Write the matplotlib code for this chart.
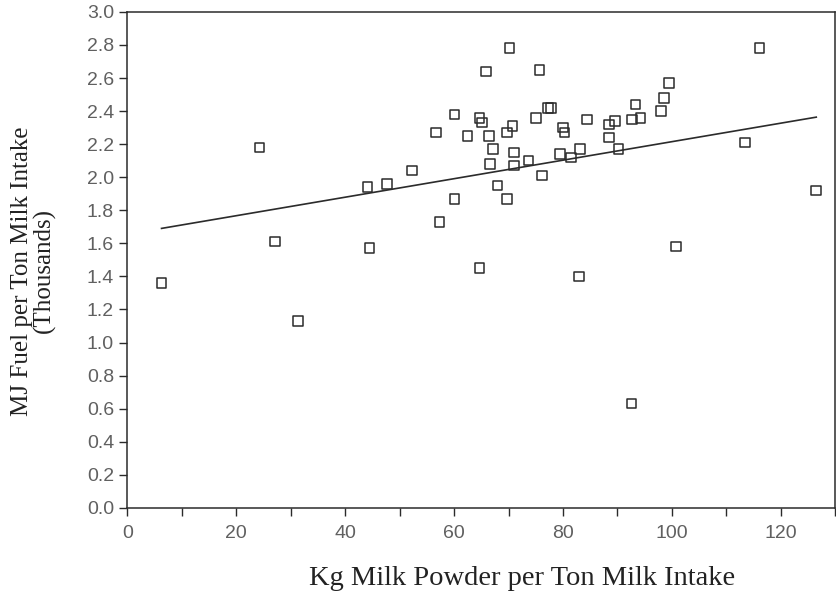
import numpy as np
import matplotlib
matplotlib.use("Agg")
import matplotlib.pyplot as plt
from matplotlib.ticker import MultipleLocator

# kg milk powder per ton milk intake
powder = [6.3, 24.3, 27.1, 31.3, 44.5, 44.1, 47.7, 52.3, 56.7, 57.3,
          60.1, 60.1, 62.5, 64.7, 65.1, 64.7, 65.9, 66.4, 66.6, 67.2,
          68.0, 69.7, 69.7, 70.2, 70.7, 71.0, 71.0, 73.7, 75.1, 75.7,
          76.2, 77.3, 77.8, 79.4, 80.0, 80.3, 81.5, 82.9, 83.1, 84.4,
          88.4, 89.6, 88.4, 90.2, 92.6, 92.7, 93.3, 94.2, 98.0, 98.6,
          99.5, 100.8, 113.4, 116.1, 126.5]

# MJ fuel per ton milk intake (thousands)
fuel = [1.36, 2.18, 1.61, 1.13, 1.57, 1.94, 1.96, 2.04, 2.27, 1.73,
        2.38, 1.87, 2.25, 2.36, 2.33, 1.45, 2.64, 2.25, 2.08, 2.17,
        1.95, 2.27, 1.87, 2.78, 2.31, 2.15, 2.07, 2.10, 2.36, 2.65,
        2.01, 2.42, 2.42, 2.14, 2.30, 2.27, 2.12, 1.40, 2.17, 2.35,
        2.32, 2.34, 2.24, 2.17, 0.63, 2.35, 2.44, 2.36, 2.40, 2.48,
        2.57, 1.58, 2.21, 2.78, 1.92]

# fitted line
fit_intercept = 1.655
fit_slope = 0.0056

ink = "#2b2b2b"

fig = plt.figure(figsize=(8.37, 5.96), dpi=100)
ax = fig.add_axes([0.152, 0.148, 0.846, 0.832])

ax.scatter(powder, fuel, marker="s", s=48, facecolors="none",
           edgecolors=ink, linewidths=1.1, zorder=3)

xs = np.array([min(powder), max(powder)])
ax.plot(xs, fit_intercept + fit_slope * xs, color=ink, lw=1.2)

ax.set_xlim(0, 130)
ax.set_ylim(0, 3.0)
ax.xaxis.set_major_locator(MultipleLocator(20))
ax.xaxis.set_minor_locator(MultipleLocator(10))
ax.yaxis.set_major_locator(MultipleLocator(0.2))
ax.yaxis.set_major_formatter(matplotlib.ticker.FormatStrFormatter("%.1f"))

ax.tick_params(which="both", direction="out", length=5.5, width=1.0,
               color=ink, labelcolor="#606060", labelsize=14)
ax.tick_params(axis="x", pad=7)
ax.tick_params(axis="y", pad=4)
for lab in ax.get_xticklabels() + ax.get_yticklabels():
    lab.set_fontfamily("Liberation Sans")

for sp in ax.spines.values():
    sp.set_color(ink)
    sp.set_linewidth(1.1)

ax.set_xlabel("Kg Milk Powder per Ton Milk Intake", family="Liberation Serif",
              fontsize=20.5, color="#222222")
ax.xaxis.set_label_coords(0.558, -0.118)
ax.set_ylabel("MJ Fuel per Ton Milk Intake\n(Thousands)", family="Liberation Serif",
              fontsize=18, color="#222222", linespacing=1.0)
ax.yaxis.set_label_coords(-0.101, 0.478)

fig.savefig("out.png", dpi=100)
